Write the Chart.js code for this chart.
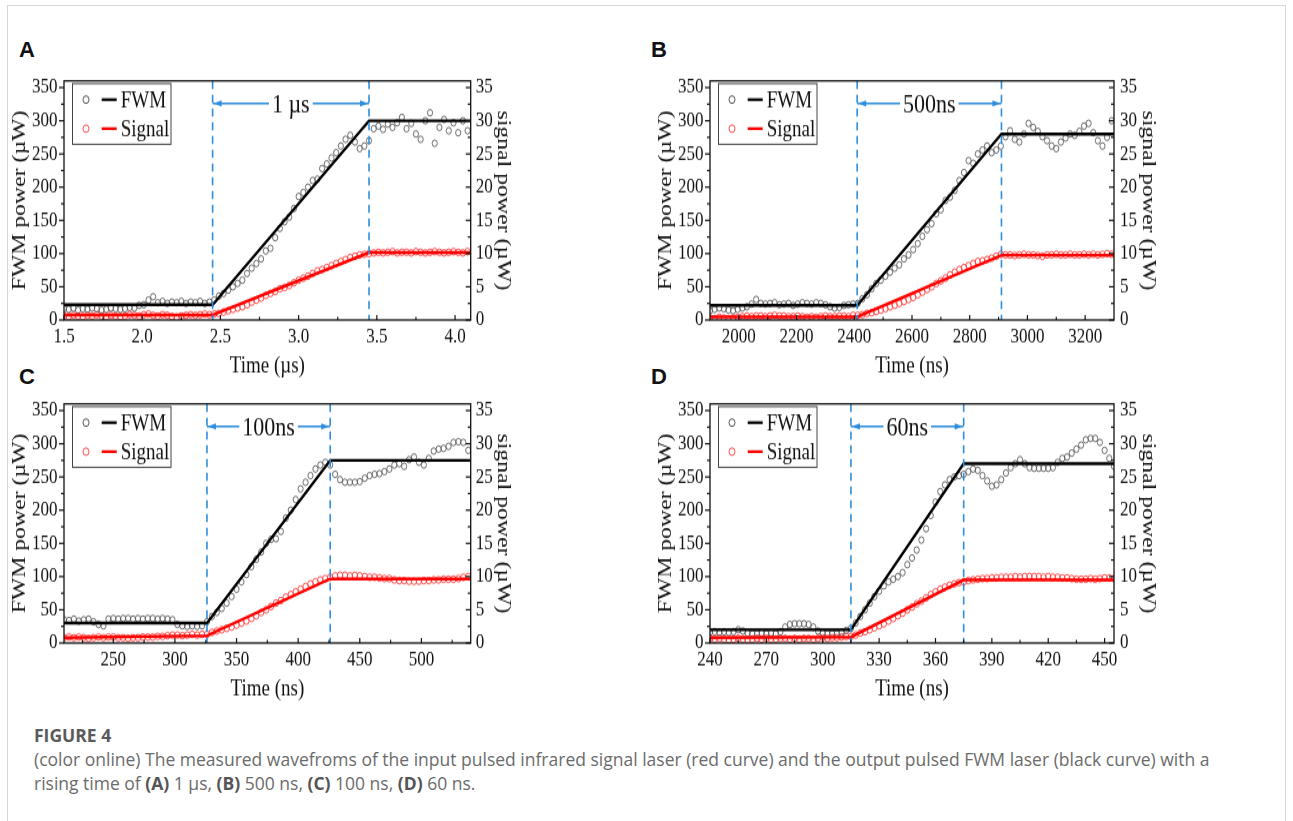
<!DOCTYPE html>
<html lang="en">
<head>
  <meta charset="UTF-8" />
  <title>FWM rising time - Figure 4</title>
  <style>
    body {
      margin: 0;
      background: #fff;
      width: 1293px;
      height: 821px;
      overflow: hidden;
      position: relative;
    }
    .frame {
      position: absolute;
      left: 7px;
      top: 5px;
      width: 1277px;
      height: 900px;
      border: 1px solid #d6d6d6;
    }
    .panel {
      position: absolute;
      transform: scaleY(1.25);
      transform-origin: 0 0;
    }
    .letter {
      position: absolute;
      font-family: "Liberation Sans", Arial, sans-serif;
      font-weight: bold;
      font-size: 22px;
      line-height: 22px;
      color: #111;
    }
    .caption {
      position: absolute;
      left: 34px;
      top: 723px;
      font-family: "Open Sans", sans-serif;
      font-size: 17.5px;
      line-height: 24px;
      color: #6b6b6b;
      white-space: nowrap;
    }
    .caption .fig {
      font-weight: bold;
      font-size: 17.5px;
      color: #5a5a5a;
    }
    .caption b { color: #555; }
  </style>
</head>
<body>
  <div class="frame"></div>

  <div class="letter" style="left:19px; top:39px;">A</div>
  <div class="letter" style="left:651px; top:39px;">B</div>
  <div class="letter" style="left:19px; top:366px;">C</div>
  <div class="letter" style="left:651px; top:366px;">D</div>

  <div class="panel" style="left:4px; top:60px;"><canvas id="chartA" width="516" height="256"></canvas></div>
  <div class="panel" style="left:650px; top:60px;"><canvas id="chartB" width="520" height="256"></canvas></div>
  <div class="panel" style="left:4px; top:383px;"><canvas id="chartC" width="516" height="256"></canvas></div>
  <div class="panel" style="left:650px; top:383px;"><canvas id="chartD" width="520" height="256"></canvas></div>

  <div class="caption">
    <div class="fig">FIGURE 4</div>
    (color online) The measured wavefroms of the input pulsed infrared signal laser (red curve) and the output pulsed FWM laser (black curve) with a<br>
    rising time of <b>(A)</b> 1 µs, <b>(B)</b> 500 ns, <b>(C)</b> 100 ns, <b>(D)</b> 60 ns.
  </div>

  <script src="https://cdn.jsdelivr.net/npm/chart.js"></script>
  <script>
    // ---- shared axes ----
    const fwmTicks = [0, 50, 100, 150, 200, 250, 300, 350];
    const sigTicks = [0, 5, 10, 15, 20, 25, 30, 35];
    const arrowLevel = 326; // FWM axis value where the rise-time arrow sits

    // ---- panel A (µs) ----
    const timeA = [1.50,1.53,1.56,1.59,1.62,1.65,1.68,1.71,1.74,1.77,1.80,1.83,1.86,1.89,1.92,1.95,1.98,
      2.01,2.04,2.07,2.10,2.13,2.16,2.19,2.22,2.25,2.28,2.31,2.34,2.37,2.40,2.43,2.46,2.49,2.52,2.55,2.58,
      2.61,2.64,2.67,2.70,2.73,2.76,2.79,2.82,2.85,2.88,2.91,2.94,2.97,3.00,3.03,3.06,3.09,3.12,3.15,3.18,
      3.21,3.24,3.27,3.30,3.33,3.36,3.39,3.42,3.45,3.48,3.51,3.54,3.57,3.60,3.63,3.66,3.69,3.72,3.75,3.78,
      3.81,3.84,3.87,3.90,3.93,3.96,3.99,4.02,4.05,4.08];
    const fwmA = [17,16,18,15,17,16,18,17,15,16,18,17,16,17,19,18,22,
      23,30,35,26,28,25,27,26,28,25,27,26,28,25,27,30,
      36,40,45,50,55,60,70,78,85,92,104,108,124,138,148,155,168,186,192,200,210,212,228,235,244,252,262,272,278,268,258,262,
      270,288,
      292,287,295,290,297,305,288,296,280,272,300,312,266,290,302,285,297,282,300,285];
    const sigA = [0.6,0.5,0.7,0.6,0.5,0.7,0.6,0.8,0.6,0.5,0.7,0.6,0.5,0.6,0.8,0.7,0.6,0.8,0.9,0.7,0.6,0.8,0.7,0.5,0.4,0.6,0.7,0.8,0.7,0.8,0.9,0.8,
      0.9,
      1.0,1.2,1.4,1.6,1.8,2.0,2.3,2.7,3.0,3.3,3.7,4.0,4.3,4.7,4.9,5.2,5.6,6.0,6.3,6.6,7.0,7.4,7.6,7.9,8.2,8.5,8.8,9.1,9.4,9.6,9.8,9.9,
      10.0,10.1,
      10.2,10.1,10.2,10.3,10.1,10.2,10.2,10.1,10.3,10.2,10.1,10.2,10.3,10.2,10.1,10.2,10.3,10.2,10.1,10.3];
    const fitTimeA = [1.5, 2.45, 3.45, 4.1];
    const fitFwmA = [23, 23, 300, 300];
    const fitSigA = [0.75, 0.75, 10.15, 10.15];
    const xTicksA = [1.5, 2.0, 2.5, 3.0, 3.5, 4.0];
    const riseA = [2.45, 3.45];

    // ---- panel B (ns) ----
    const timeB = [1900,1916,1932,1948,1964,1980,1996,2012,2028,2044,2060,2076,2092,2108,2124,2140,2156,2172,
      2188,2204,2220,2236,2252,2268,2284,2300,2316,2332,2348,2364,2380,2396,2412,2428,2444,2460,2476,2492,2508,
      2524,2540,2556,2572,2588,2604,2620,2636,2652,2668,2684,2700,2716,2732,2748,2764,2780,2796,2812,2828,2844,
      2860,2876,2892,2908,2924,2940,2956,2972,2988,3004,3020,3036,3052,3068,3084,3100,3116,3132,3148,3164,3180,
      3196,3212,3228,3244,3260,3276,3292];
    const fwmB = [14,16,18,17,15,14,16,18,20,24,
      31,25,
      24,25,26,23,24,25,22,24,26,25,24,26,25,23,20,18,19,22,23,24,
      25,32,38,47,55,60,66,72,78,83,92,98,106,115,126,136,145,160,166,180,185,195,210,222,240,236,250,256,262,252,256,262,
      276,285,272,268,280,296,290,284,276,270,262,258,268,274,280,278,284,292,296,282,270,262,275,300];
    const sigB = [0.3,0.2,0.4,0.3,0.2,0.3,0.4,0.5,0.6,0.5,0.6,0.6,0.5,0.6,0.7,0.6,0.6,0.5,0.5,0.6,0.5,0.4,0.5,0.4,0.5,0.6,0.5,0.5,0.6,0.6,0.5,0.7,
      0.7,0.8,1.0,1.1,1.3,1.5,1.7,2.0,2.2,2.5,2.8,3.1,3.4,3.8,4.2,4.6,5.0,5.5,5.9,6.3,6.8,7.2,7.6,7.9,8.2,8.5,8.8,8.9,9.1,9.3,9.6,9.9,
      9.8,9.8,9.7,9.8,9.9,9.8,9.8,9.7,9.6,9.8,9.8,9.9,9.8,9.8,9.9,9.8,9.8,9.9,9.8,9.9,9.8,9.9,10.0,9.9];
    const fitTimeB = [1900, 2410, 2910, 3300];
    const fitFwmB = [22, 22, 280, 280];
    const fitSigB = [0.47, 0.47, 9.76, 9.76];
    const xTicksB = [2000, 2200, 2400, 2600, 2800, 3000, 3200];
    const riseB = [2410, 2910];

    // ---- panel C (ns) ----
    const timeC = [210,214,218,222,226,230,234,238,242,246,250,254,258,262,266,270,274,278,282,286,290,294,298,
      302,306,310,314,318,322,326,330,334,338,342,346,350,354,358,362,366,370,374,378,382,386,390,394,398,402,
      406,410,414,418,422,426,430,434,438,442,446,450,454,458,462,466,470,474,478,482,486,490,494,498,502,506,
      510,514,518,522,526,530,534,538];
    const fwmC = [35,34,36,33,35,36,32,28,
      26,36,37,36,
      37,37,36,37,36,37,37,36,37,36,35,
      28,26,25,26,25,26,
      32,
      40,46,52,60,70,81,92,103,115,126,137,150,156,157,168,188,200,216,232,242,252,262,268,272,
      268,
      254,246,242,242,242,243,248,252,254,255,258,262,268,270,266,276,280,272,268,278,289,292,293,296,302,303,302,290];
    const sigC = [0.8,0.9,0.8,0.9,0.8,0.7,0.8,0.9,0.8,0.9,0.9,0.8,0.8,0.7,0.8,0.8,0.9,0.9,0.9,1.0,1.0,1.1,1.2,1.2,1.1,1.2,1.3,1.2,1.3,
      1.3,
      1.6,1.8,2.0,2.2,2.4,2.7,3.0,3.3,3.7,4.1,4.6,5.0,5.5,6.0,6.4,6.9,7.3,7.7,8.1,8.5,8.9,9.2,9.5,9.7,
      9.9,
      10.1,10.2,10.2,10.1,10.2,10.1,10.0,9.9,9.9,9.8,9.7,9.7,9.5,9.4,9.4,9.3,9.3,9.3,9.4,9.4,9.5,9.5,9.6,9.6,9.6,9.7,9.9,10.0];
    const fitTimeC = [210, 326, 426, 540];
    const fitFwmC = [30, 30, 275, 275];
    const fitSigC = [0.8, 1.1, 9.65, 9.65];
    const xTicksC = [250, 300, 350, 400, 450, 500];
    const riseC = [326, 426];

    // ---- panel D (ns) ----
    const timeD = [240,242.5,245,247.5,250,252.5,255,257.5,260,262.5,265,267.5,270,272.5,275,277.5,280,282.5,
      285,287.5,290,292.5,295,297.5,300,302.5,305,307.5,310,312.5,315,317.5,320,322.5,325,327.5,330,332.5,335,
      337.5,340,342.5,345,347.5,350,352.5,355,357.5,360,362.5,365,367.5,370,372.5,375,377.5,380,382.5,385,387.5,
      390,392.5,395,397.5,400,402.5,405,407.5,410,412.5,415,417.5,420,422.5,425,427.5,430,432.5,435,437.5,440,
      442.5,445,447.5,450,452.5,455];
    const fwmD = [16,17,16,17,16,17,20,18,15,14,14,15,14,15,14,17,
      24,28,29,29,29,28,24,
      18,15,14,14,14,16,19,
      22,
      30,40,50,60,70,78,86,92,96,100,106,118,128,140,155,172,192,212,228,238,246,250,252,
      254,
      258,262,260,252,244,236,238,246,256,264,270,276,270,264,263,263,263,263,264,272,278,280,286,292,298,306,308,308,302,290,278,266];
    const sigD = [0.7,0.6,0.7,0.6,0.5,0.6,0.7,0.6,0.5,0.6,0.7,0.6,0.7,0.6,0.6,0.7,0.7,0.6,0.7,0.6,0.7,0.7,0.6,0.7,0.8,0.7,0.8,0.8,0.9,1.0,
      1.0,
      1.2,1.5,1.7,2.0,2.3,2.6,2.9,3.3,3.7,4.1,4.5,5.0,5.4,5.9,6.3,6.8,7.3,7.7,8.1,8.4,8.7,8.9,9.1,
      9.2,
      9.4,9.5,9.6,9.7,9.7,9.8,9.8,9.9,9.9,9.9,10.0,9.9,10.0,10.0,10.0,10.0,9.9,10.0,9.9,9.9,9.8,9.8,9.7,9.6,9.6,9.6,9.7,9.6,9.7,9.8,9.8,9.7];
    const fitTimeD = [240, 315, 375, 455];
    const fitFwmD = [20, 20, 270, 270];
    const fitSigD = [0.8, 0.9, 9.5, 9.5];
    const xTicksD = [240, 270, 300, 330, 360, 390, 420, 450];
    const riseD = [315, 375];

    const serif = "'Liberation Serif', 'Times New Roman', serif";
    const tickFont = { family: serif, size: 17 };
    const titleFont = { family: serif, size: 19 };
    const riseColor = "#2d8ddc";

    const pairs = (xs, ys) => xs.map((v, i) => ({ x: v, y: ys[i] }));
    const minorsOf = (ticks) => ticks.slice(0, -1).map((v, i) => (v + ticks[i + 1]) / 2);

    // frame, inward/outward ticks, rise markers and the legend box
    const makeDecor = (p) => ({
      id: "decor",
      afterDatasetsDraw(chart) {
        const { ctx, chartArea: a, scales } = chart;
        const x = scales.x, y = scales.y, y1 = scales.y1;
        ctx.save();

        // dashed rise-time markers
        ctx.strokeStyle = riseColor;
        ctx.lineWidth = 1.6;
        ctx.setLineDash([6.5, 4.5]);
        p.rise.forEach(v => {
          const px = x.getPixelForValue(v);
          ctx.beginPath(); ctx.moveTo(px, a.top); ctx.lineTo(px, a.bottom); ctx.stroke();
        });
        ctx.setLineDash([]);

        // arrow with label
        const x1 = x.getPixelForValue(p.rise[0]);
        const x2 = x.getPixelForValue(p.rise[1]);
        const ay = y.getPixelForValue(arrowLevel);
        ctx.lineWidth = 1.3;
        ctx.beginPath(); ctx.moveTo(x1, ay); ctx.lineTo(x2, ay); ctx.stroke();
        ctx.fillStyle = riseColor;
        ctx.beginPath(); ctx.moveTo(x1 + 1, ay); ctx.lineTo(x1 + 9, ay - 2.6); ctx.lineTo(x1 + 9, ay + 2.6); ctx.fill();
        ctx.beginPath(); ctx.moveTo(x2 - 1, ay); ctx.lineTo(x2 - 9, ay - 2.6); ctx.lineTo(x2 - 9, ay + 2.6); ctx.fill();
        ctx.font = "22px " + serif;
        const tw = ctx.measureText(p.riseLabel).width;
        const cx = (x1 + x2) / 2;
        ctx.fillStyle = "#fff";
        ctx.fillRect(cx - tw / 2 - 3, ay - 9, tw + 6, 18);
        ctx.fillStyle = "#111";
        ctx.textAlign = "center";
        ctx.textBaseline = "middle";
        ctx.fillText(p.riseLabel, cx, ay + 1);

        // plot frame
        ctx.strokeStyle = "#111";
        ctx.lineWidth = 1.3;
        ctx.strokeRect(a.left, a.top, a.right - a.left, a.bottom - a.top);

        // ticks: left outward, right and bottom inward
        ctx.lineWidth = 1.2;
        const hTick = (px, py, len) => { ctx.beginPath(); ctx.moveTo(px, py); ctx.lineTo(px + len, py); ctx.stroke(); };
        const vTick = (px, py, len) => { ctx.beginPath(); ctx.moveTo(px, py); ctx.lineTo(px, py - len); ctx.stroke(); };
        fwmTicks.forEach(v => hTick(a.left, y.getPixelForValue(v), -5));
        minorsOf(fwmTicks).forEach(v => hTick(a.left, y.getPixelForValue(v), -3));
        sigTicks.forEach(v => hTick(a.right, y1.getPixelForValue(v), -5));
        minorsOf(sigTicks).forEach(v => hTick(a.right, y1.getPixelForValue(v), -3));
        p.xTicks.forEach(v => vTick(x.getPixelForValue(v), a.bottom, 4));
        const step = p.xTicks[1] - p.xTicks[0];
        minorsOf([p.xTicks[0] - step].concat(p.xTicks, [p.xTicks[p.xTicks.length - 1] + step]))
          .forEach(v => { if (v > p.xMin && v < p.xMax) vTick(x.getPixelForValue(v), a.bottom, 2.5); });

        // legend box
        const lx = a.left + 8.5, ly = a.top + 2.2;
        ctx.fillStyle = "#fff";
        ctx.fillRect(lx, ly, 98.5, 48.5);
        ctx.strokeStyle = "#444";
        ctx.lineWidth = 1;
        ctx.strokeRect(lx, ly, 98.5, 48.5);
        const rows = [
          { name: "FWM", mark: "#444", line: "#000", yy: a.top + 15 },
          { name: "Signal", mark: "#ff3b3b", line: "#ff0000", yy: a.top + 38.2 }
        ];
        rows.forEach(r => {
          ctx.strokeStyle = r.mark;
          ctx.lineWidth = 0.9;
          ctx.beginPath(); ctx.arc(a.left + 22, r.yy, 3, 0, Math.PI * 2); ctx.stroke();
          ctx.strokeStyle = r.line;
          ctx.lineWidth = 2.2;
          ctx.beginPath(); ctx.moveTo(a.left + 37.7, r.yy); ctx.lineTo(a.left + 52.7, r.yy); ctx.stroke();
          ctx.fillStyle = "#111";
          ctx.font = "19px " + serif;
          ctx.textAlign = "left";
          ctx.textBaseline = "middle";
          ctx.fillText(r.name, a.left + 56.7, r.yy + 1);
        });
        ctx.restore();
      }
    });

    const buildPanel = (id, p) => new Chart(document.getElementById(id).getContext("2d"), {
      type: "scatter",
      data: {
        datasets: [
          { label: "FWM fit", data: pairs(p.fitT, p.fitF), showLine: true, borderColor: "#000",
            borderWidth: 2.4, pointRadius: 0, yAxisID: "y" },
          { label: "Signal fit", data: pairs(p.fitT, p.fitS), showLine: true, borderColor: "#ff0000",
            borderWidth: 2.4, pointRadius: 0, yAxisID: "y1" },
          { label: "FWM", data: pairs(p.t, p.fwm), showLine: false, pointRadius: 2.6,
            pointBorderColor: "#555", pointBackgroundColor: "rgba(0,0,0,0)", pointBorderWidth: 0.85, yAxisID: "y" },
          { label: "Signal", data: pairs(p.t, p.sig), showLine: false, pointRadius: 2.7,
            pointBorderColor: "#ff3f3f", pointBackgroundColor: "rgba(0,0,0,0)", pointBorderWidth: 0.9, yAxisID: "y1" }
        ]
      },
      options: {
        responsive: false,
        animation: false,
        devicePixelRatio: 1,
        layout: { padding: { top: 6, left: 0, right: 0, bottom: 0 } },
        plugins: { legend: { display: false }, tooltip: { enabled: false } },
        scales: {
          x: {
            type: "linear", min: p.xMin, max: p.xMax,
            grid: { display: false, drawTicks: false }, border: { display: false },
            afterBuildTicks: s => { s.ticks = p.xTicks.map(v => ({ value: v })); },
            afterFit: s => { s.height = 48; },
            ticks: { font: tickFont, color: "#111", padding: 3.5, autoSkip: false, maxRotation: 0,
                     callback: v => p.xFmt(v) },
            title: { display: true, text: p.xTitle, font: titleFont, color: "#111", padding: 0 }
          },
          y: {
            position: "left", min: 0, max: 360,
            grid: { display: false, drawTicks: false }, border: { display: false },
            afterBuildTicks: s => { s.ticks = fwmTicks.map(v => ({ value: v })); },
            afterFit: s => { s.width = 60; },
            ticks: { font: tickFont, color: "#111", padding: 6.5, callback: v => String(v) },
            title: { display: true, text: "FWM power (µW)", font: titleFont, color: "#111", padding: { top: 4.6, bottom: 0 } }
          },
          y1: {
            position: "right", min: 0, max: 36,
            grid: { display: false, drawTicks: false }, border: { display: false },
            afterBuildTicks: s => { s.ticks = sigTicks.map(v => ({ value: v })); },
            afterFit: s => { s.width = p.rightW; },
            ticks: { font: tickFont, color: "#111", padding: p.rightTickPad, callback: v => String(v) },
            title: { display: true, text: "signal power (µW)", font: titleFont, color: "#111", padding: { top: p.rightTitlePad, bottom: 0 } }
          }
        }
      },
      plugins: [makeDecor(p)]
    });

    buildPanel("chartA", {
      t: timeA, fwm: fwmA, sig: sigA, fitT: fitTimeA, fitF: fitFwmA, fitS: fitSigA,
      xMin: 1.5, xMax: 4.1, xTicks: xTicksA, xFmt: v => v.toFixed(1), xTitle: "Time (µs)",
      rise: riseA, riseLabel: "1 µs", rightW: 49.3, rightTickPad: 5, rightTitlePad: 5.6
    });
    buildPanel("chartB", {
      t: timeB, fwm: fwmB, sig: sigB, fitT: fitTimeB, fitF: fitFwmB, fitS: fitSigB,
      xMin: 1900, xMax: 3300, xTicks: xTicksB, xFmt: v => String(v), xTitle: "Time (ns)",
      rise: riseB, riseLabel: "500ns", rightW: 56, rightTickPad: 6, rightTitlePad: 10.6
    });
    buildPanel("chartC", {
      t: timeC, fwm: fwmC, sig: sigC, fitT: fitTimeC, fitF: fitFwmC, fitS: fitSigC,
      xMin: 210, xMax: 540, xTicks: xTicksC, xFmt: v => String(v), xTitle: "Time (ns)",
      rise: riseC, riseLabel: "100ns", rightW: 49.3, rightTickPad: 5, rightTitlePad: 5.6
    });
    buildPanel("chartD", {
      t: timeD, fwm: fwmD, sig: sigD, fitT: fitTimeD, fitF: fitFwmD, fitS: fitSigD,
      xMin: 240, xMax: 455, xTicks: xTicksD, xFmt: v => String(v), xTitle: "Time (ns)",
      rise: riseD, riseLabel: "60ns", rightW: 56, rightTickPad: 6, rightTitlePad: 10.6
    });
  </script>
</body>
</html>
